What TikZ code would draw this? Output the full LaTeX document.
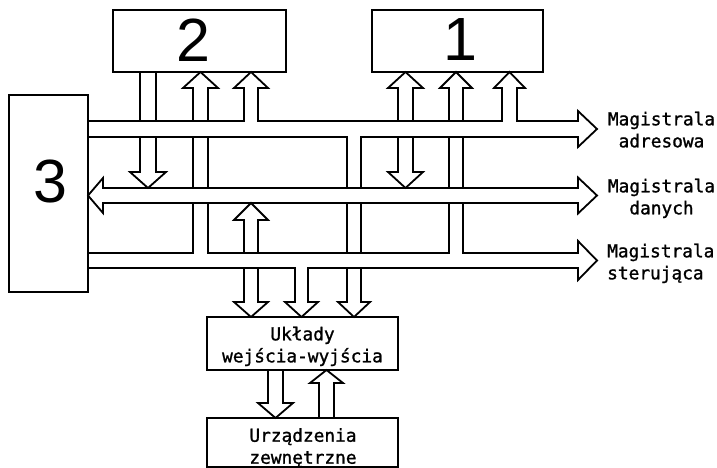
\documentclass[tikz,border=0pt]{standalone}
\usepackage{fontspec}
\newfontfamily\monofont[FakeBold=1.2]{DejaVu Sans Mono}
\newfontfamily\digitfont{Liberation Sans}
\tikzset{
  wire/.style={line width=1.8pt, line join=miter, line cap=butt},
  box/.style={draw, line width=1.8pt, inner sep=0pt, outer sep=0pt},
  lbl/.style={font=\monofont\fontsize{17.8}{22}\selectfont, inner sep=0pt},
  digit/.style={font=\digitfont\fontsize{61}{61}\selectfont, inner sep=0pt},
}
\newcommand\crosspatch[4]{\fill[white] (#1-2.2,#3+1.05) rectangle (#2+2.2,#4-1.05);}
\begin{document}
\begin{tikzpicture}[x=1pt,y=-1pt]
\useasboundingbox[fill=white] (0,0) rectangle (717,468);
% boxes
\node[box, minimum width=173pt, minimum height=62pt] (b2) at (199.5,41) {};
\node[box, minimum width=171pt, minimum height=62pt] (b1) at (457.5,41) {};
\node[box, minimum width=79pt, minimum height=197pt] (b3) at (48.5,193.5) {};
\node[box, minimum width=191pt, minimum height=53pt] (io) at (302.5,343.5) {};
\node[box, minimum width=191pt, minimum height=49pt] (dev) at (302.5,442.5) {};
% address bus with branches
\draw[wire] (88,121) -- (244,121) -- (244,88) -- (234,88) -- (251,72) -- (268,88) -- (258,88) -- (258,121)
  -- (502,121) -- (502,88) -- (494,88) -- (509.5,72) -- (525,88) -- (517,88) -- (517,121)
  -- (578,121) -- (578,111) -- (597,129) -- (578,147) -- (578,137)
  -- (361,137) -- (361,302) -- (370,302) -- (354,317) -- (338,302) -- (347,302) -- (347,137) -- (88,137);
% control bus with branches
\draw[wire] (88,253) -- (193,253) -- (193,88) -- (183,88) -- (200.5,72) -- (218,88) -- (208,88) -- (208,253)
  -- (449,253) -- (449,88) -- (440,88) -- (456,72) -- (472,88) -- (463,88) -- (463,253)
  -- (578,253) -- (578,241) -- (597,260.5) -- (578,280) -- (578,268)
  -- (308,268) -- (308,302) -- (318,302) -- (301.5,317) -- (285,302) -- (295,302) -- (295,268) -- (88,268);
% data bus
\draw[wire] (88,195.5) -- (103,178) -- (103,188) -- (578,188) -- (578,177.5) -- (597,195.5) -- (578,213.5)
  -- (578,203) -- (103,203) -- (103,213) -- cycle;
% 2 -> data
\draw[wire] (140,72) -- (140,172) -- (130,172) -- (148,188) -- (166,172) -- (156,172) -- (156,72);
% 1 <-> data
\draw[wire] (398,88) -- (398,172) -- (388,172) -- (405.5,188) -- (423,172) -- (413,172) -- (413,88)
  -- (423,88) -- (405.5,72) -- (388,88) -- cycle;
% data <-> I/O
\draw[wire] (244,220) -- (244,302) -- (234,302) -- (251,317) -- (268,302) -- (258,302) -- (258,220)
  -- (268,220) -- (251,203) -- (234,220) -- cycle;
% I/O -> devices
\draw[wire] (268,370) -- (268,403) -- (258,403) -- (275.5,418) -- (293,403) -- (283,403) -- (283,370);
% devices -> I/O
\draw[wire] (319,418) -- (319,383) -- (310,383) -- (326.5,370) -- (343,383) -- (334,383) -- (334,418);
% crossings (bus lines stay continuous)
\crosspatch{140}{156}{121}{137}
\crosspatch{193}{208}{121}{137}
\crosspatch{193}{208}{188}{203}
\crosspatch{398}{413}{121}{137}
\crosspatch{449}{463}{121}{137}
\crosspatch{449}{463}{188}{203}
\crosspatch{244}{258}{253}{268}
\crosspatch{347}{361}{188}{203}
\crosspatch{347}{361}{253}{268}
% texts
\node[digit] (t2) at (193,40) {2};
\node[digit] (t1) at (460,40) {1};
\node[digit] (t3) at (50,182) {3};
\node[lbl, align=center, anchor=north] (la) at (661.5,111.5) {Magistrala\\adresowa};
\node[lbl, align=center, anchor=north] (ld) at (661.5,178.5) {Magistrala\\danych};
\node[lbl, align=left, anchor=north west] (lc) at (607,243.5) {Magistrala\\sterująca};
\node[lbl, align=center, anchor=north] (lio) at (302.5,326.5) {Układy\\wejścia-wyjścia};
\node[lbl, align=center, anchor=north] (ldev) at (303,428) {Urządzenia\\zewnętrzne};
\end{tikzpicture}
\end{document}
